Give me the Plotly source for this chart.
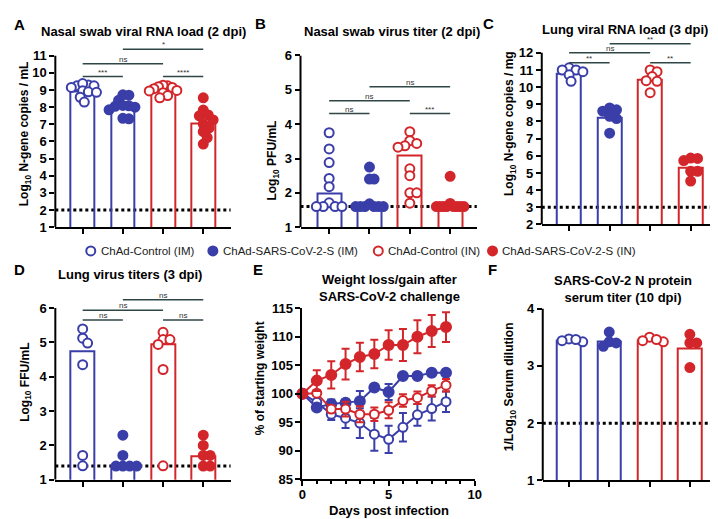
import plotly.graph_objects as go

W, H = 718, 519
BLUE = "#3a3ea8"
RED = "#d3262b"
BRK = "#2e4646"
FONT = "Arial, Liberation Sans, sans-serif"

groups = ["ChAd-Control (IM)", "ChAd-SARS-CoV-2-S (IM)", "ChAd-Control (IN)", "ChAd-SARS-CoV-2-S (IN)"]
colors = [BLUE, BLUE, RED, RED]
filled = [False, True, False, True]

# A - nasal swab viral RNA (2 dpi)
a_bars = [8.9, 8.02, 8.96, 7.04]
a_pts = [
    [9.25, 9.3, 9.38, 9.25, 9.15, 8.96, 8.9, 8.87, 8.58, 8.30],
    [8.72, 8.7, 8.4, 8.1, 8.08, 8.05, 8.0, 7.85, 7.32, 7.35],
    [9.25, 9.28, 9.2, 9.15, 9.08, 8.98, 8.95, 8.85, 8.68, 8.55],
    [8.55, 7.83, 7.55, 7.5, 7.26, 7.02, 6.79, 6.57, 6.23, 5.85],
]
a_lod = 2
a_sig = [(0, 1, 9.79, "***"), (2, 3, 9.79, "****"), (0, 2, 10.53, "ns"), (1, 3, 11.38, "*")]

# B - nasal swab virus titer (2 dpi)
b_bars = [1.97, 1.6, 3.08, 1.6]
b_pts = [
    [3.75, 3.28, 2.88, 2.42, 2.18, 1.71, 1.6, 1.6, 1.6, 1.6],
    [2.75, 2.4, 2.4, 1.68, 1.6, 1.6, 1.6, 1.6, 1.6, 1.6],
    [3.78, 3.52, 3.44, 3.37, 3.33, 2.7, 2.5, 2.0, 2.0, 1.7],
    [2.48, 1.69, 1.6, 1.6, 1.6, 1.6, 1.6, 1.6, 1.6, 1.6],
]
b_lod = 1.6
b_sig = [(0, 1, 4.31, "ns"), (2, 3, 4.31, "***"), (0, 2, 4.68, "ns"), (1, 3, 5.09, "ns")]

# C - lung viral RNA (3 dpi)
c_bars = [10.75, 8.23, 10.43, 5.28]
c_pts = [
    [11.13, 11.0, 11.0, 10.9, 10.72, 10.34],
    [8.79, 8.68, 8.6, 8.3, 8.17, 7.32],
    [11.0, 10.9, 10.62, 10.38, 10.34, 9.68],
    [5.87, 5.85, 5.72, 5.1, 5.1, 4.53],
]
c_lod = 3
c_sig = [(0, 1, 11.43, "**"), (2, 3, 11.43, "**"), (0, 2, 12.0, "ns"), (1, 3, 12.53, "**")]

# D - lung virus titers (3 dpi)
d_bars = [4.73, 1.4, 4.96, 1.68]
d_pts = [
    [5.39, 5.12, 4.98, 4.35, 1.71, 1.41],
    [2.3, 1.71, 1.4, 1.4, 1.4, 1.4],
    [5.29, 5.08, 5.08, 4.94, 4.21, 1.41],
    [2.3, 2.0, 1.71, 1.71, 1.4, 1.4],
]
d_lod = 1.4
d_sig = [(0, 1, 5.65, "ns"), (2, 3, 5.65, "ns"), (0, 2, 5.93, "ns"), (1, 3, 6.24, "ns")]

# E - weight change
e_days = [0, 0.83, 1.67, 2.5, 3.33, 4.17, 5.0, 5.83, 6.67, 7.5, 8.33]
e_mean = [
    [100, 98.5, 96.4, 95.7, 94.85, 92.9, 92.0, 94.1, 96.3, 97.4, 98.6],
    [100, 97.6, 98.2, 98.4, 98.7, 101.1, 100.3, 103.1, 103.1, 103.7, 103.7],
    [100, 100.1, 97.3, 97.3, 96.4, 96.4, 97.1, 98.8, 99.3, 100.5, 101.5],
    [100, 102.3, 103.3, 105.2, 106.45, 106.96, 108.55, 108.55, 110.0, 111.0, 111.7],
]
e_err = [
    [0, 0.4, 1.0, 1.7, 2.6, 2.9, 2.4, 2.5, 1.9, 2.1, 1.8],
    [0, 0.5, 0.8, 0.6, 1.8, 0.5, 1.4, 0.4, 0.4, 0.4, 0.3],
    [0, 0.5, 0.6, 1.3, 1.4, 1.2, 1.4, 1.1, 1.1, 1.0, 1.1],
    [0, 1.8, 2.4, 2.7, 2.5, 2.5, 2.6, 2.8, 2.9, 2.8, 2.6],
]

# F - N protein serum titer (10 dpi)
f_bars = [3.45, 3.42, 3.45, 3.31]
f_pts = [
    [3.42, 3.47, 3.44, 3.46],
    [3.34, 3.59, 3.42, 3.40],
    [3.42, 3.50, 3.44, 3.46],
    [3.40, 3.55, 3.40, 2.97],
]
f_lod = 2


def swarm(vals, ppu_y, ppu_x, d=7, half=14):
    # simple beeswarm, squeezed so the cloud stays within +-half px
    order = sorted(range(len(vals)), key=lambda k: -vals[k])
    placed = []
    offs = [0.0] * len(vals)
    for k in order:
        y = vals[k] * ppu_y
        for step in range(0, 80):
            cand = (step + 1) // 2 * (1 if step % 2 else -1)
            if all((cand - px) ** 2 + (y - py) ** 2 >= d * d for px, py in placed):
                break
        placed.append((cand, y))
        offs[k] = cand
    wmax = max(abs(o) for o in offs) or 1
    scale = min(1, half / wmax)
    return [o * scale / ppu_x for o in offs]


fig = go.Figure()
shapes = []
annos = []


def dom(left, right, top, bottom):
    return [left / W, right / W], [1 - bottom / H, 1 - top / H]


def ax(n):
    s = "" if n == 1 else str(n)
    return "x" + s, "y" + s, "xaxis" + s, "yaxis" + s


def dot_panel(n, box, xr, yr, ytop, ticks, bars, pts, lod, sig):
    xd, yd = dom(*box)
    xa, ya, xkey, ykey = ax(n)
    ppu_y = (box[3] - box[2]) / (yr[1] - yr[0])
    ppu_x = (box[1] - box[0]) / (xr[1] - xr[0])
    for i in range(4):
        fig.add_trace(go.Bar(x=[i], y=[bars[i]], width=0.59, xaxis=xa, yaxis=ya,
                             marker=dict(color="rgba(0,0,0,0)", line=dict(color=colors[i], width=2)),
                             showlegend=False, hoverinfo="skip"))
    for i in range(4):
        offs = swarm(pts[i], ppu_y, ppu_x)
        fig.add_trace(go.Scatter(
            x=[i + o for o in offs], y=pts[i], mode="markers", xaxis=xa, yaxis=ya,
            name=groups[i], showlegend=False, cliponaxis=False,
            marker=dict(size=9, symbol="circle",
                        color=colors[i] if filled[i] else "white",
                        line=dict(color=colors[i], width=2))))
    fig.update_layout(**{
        xkey: dict(domain=xd, range=xr, anchor=ya, showline=True, linewidth=2, linecolor="black",
                   ticks="outside", ticklen=5, tickwidth=2, tickcolor="black",
                   tickvals=[0, 1, 2, 3], showticklabels=False, showgrid=False, zeroline=False),
        ykey: dict(domain=yd, range=yr, anchor=xa, showline=False,
                   ticks="outside", ticklen=5, tickwidth=2, tickcolor="black", tickvals=ticks,
                   tickfont=dict(size=13, weight="bold", color="black"),
                   showgrid=False, zeroline=False),
    })
    shapes.append(dict(type="line", xref=xa + " domain", yref=ya, x0=0, x1=0, y0=yr[0], y1=ytop,
                       line=dict(color="black", width=2)))
    shapes.append(dict(type="line", xref=xa + " domain", yref=ya, x0=0, x1=1, y0=lod, y1=lod,
                       line=dict(color="black", width=3, dash="3px,3px"), layer="below"))
    for i, j, y, lab in sig:
        shapes.append(dict(type="line", xref=xa, yref=ya, x0=i, x1=j, y0=y, y1=y,
                           line=dict(color=BRK, width=1.5)))
        annos.append(dict(x=(i + j) / 2, y=y, xref=xa, yref=ya, text=lab, showarrow=False,
                          yanchor="bottom", yshift=-2, font=dict(size=8, color="#333")))


dot_panel(1, (44, 222, 31.4, 218.5), [-0.68, 3.68], [1, 11.6], 11, list(range(1, 12)),
          a_bars, a_pts, a_lod, a_sig)
dot_panel(2, (293, 472, 41.7, 218.5), [-0.71, 3.66], [1, 6], 6, list(range(1, 7)),
          b_bars, b_pts, b_lod, b_sig)
dot_panel(3, (538, 717, 26.6, 215.7), [-0.675, 3.675], [2, 12.7], 12, list(range(2, 13)),
          c_bars, c_pts, c_lod, c_sig)
dot_panel(4, (44, 222, 287.5, 478.7), [-0.68, 3.68], [1, 6.4], 6, list(range(1, 7)),
          d_bars, d_pts, d_lod, d_sig)
dot_panel(6, (539, 715, 302.3, 479.3), [-0.65, 3.65], [1, 4], 4, [1, 2, 3, 4],
          f_bars, f_pts, f_lod, [])

# E - line chart with error bars
for i in range(4):
    fig.add_trace(go.Scatter(
        x=e_days, y=e_mean[i], mode="lines+markers", xaxis="x5", yaxis="y5", showlegend=False,
        cliponaxis=False, line=dict(color=colors[i], width=2),
        error_y=dict(type="data", array=e_err[i], color=colors[i], thickness=2, width=4),
        marker=dict(size=10 if filled[i] else 9, color=colors[i] if filled[i] else "white",
                    line=dict(color=colors[i], width=2))))
xd, yd = dom(295, 470, 302, 478)
fig.update_layout(
    xaxis5=dict(domain=xd, range=[0, 10], anchor="y5", showline=True, linewidth=2, linecolor="black",
                ticks="outside", ticklen=5, tickwidth=2, tickcolor="black", tickvals=[0, 5, 10],
                tickfont=dict(size=13, weight="bold", color="black"), ticklabelstandoff=-3,
                minor=dict(dtick=10 / 12, tick0=0, ticks="outside", ticklen=3, tickwidth=1.5, tickcolor="black"),
                showgrid=False, zeroline=False),
    yaxis5=dict(domain=yd, range=[85, 115], anchor="x5", showline=True, linewidth=2, linecolor="black",
                ticks="outside", ticklen=5, tickwidth=2, tickcolor="black", dtick=5,
                tickfont=dict(size=13, weight="bold", color="black"), showgrid=False, zeroline=False),
)

# legend row, drawn on a hidden pixel-scaled axis
leg_x = [80, 204, 372, 488]
fig.add_trace(go.Scatter(
    x=leg_x, y=[0.5] * 4, mode="markers", xaxis="x7", yaxis="y7", showlegend=False, hoverinfo="skip",
    marker=dict(size=9, color=[c if f else "white" for c, f in zip(colors, filled)],
                line=dict(color=colors, width=2))))
for x, t in zip(leg_x, groups):
    annos.append(dict(x=x + 8, y=0.5, xref="x7", yref="y7", text=t, showarrow=False,
                      xanchor="left", yanchor="middle", font=dict(size=11.5, color="#222")))
fig.update_layout(
    xaxis7=dict(domain=[0, 1], range=[0, W], visible=False, anchor="y7"),
    yaxis7=dict(domain=[1 - 253 / H, 1 - 233 / H], range=[0, 1], visible=False, anchor="x7"),
)

# titles, letters, axis titles
title_font = dict(size=13, weight="bold", color="black", family=FONT)
for x, y, t in [(134, 17, "Nasal swab viral RNA load (2 dpi)"), (386, 17, "Nasal swab virus titer (2 dpi)"),
                (623, 15, "Lung viral RNA load (3 dpi)"), (120, 267, "Lung virus titers (3 dpi)"),
                (383, 281, "Weight loss/gain after<br>SARS-CoV-2 challenge"),
                (621, 282, "SARS-CoV-2 N protein<br>serum titer (10 dpi)")]:
    annos.append(dict(x=x / W, y=1 - y / H, xref="paper", yref="paper", text=t, showarrow=False,
                      font=title_font, xanchor="center", yanchor="middle"))
annos.append(dict(x=383 / W, y=1 - 510 / H, xref="paper", yref="paper", text="Days post infection",
                  showarrow=False, font=title_font, xanchor="center", yanchor="middle"))
for x, y, t in [(8, 10, "A"), (252, 9, "B"), (484, 9, "C"), (8, 262, "D"), (250, 262, "E"), (488, 262, "F")]:
    annos.append(dict(x=x / W, y=1 - y / H, xref="paper", yref="paper", text=t, showarrow=False,
                      font=dict(size=15, weight="bold", color="black", family=FONT),
                      xanchor="center", yanchor="middle"))
axt_font = dict(size=12, weight="bold", color="black", family=FONT)
for x, y, t in [(14, 122, "Log<sub>10</sub> N-gene copies / mL"), (265, 150, "Log<sub>10</sub> PFU/mL"),
                (506, 112, "Log<sub>10</sub> N-gene copies / mg"), (14, 378, "Log<sub>10</sub> FFU/mL"),
                (252, 374, "% of starting weight"), (506, 383, "1/Log<sub>10</sub> Serum dilution")]:
    annos.append(dict(x=x / W, y=1 - y / H, xref="paper", yref="paper", text=t, showarrow=False,
                      textangle=-90, font=axt_font, xanchor="center", yanchor="middle"))

fig.update_layout(
    width=W, height=H, margin=dict(l=0, r=0, t=0, b=0),
    plot_bgcolor="white", paper_bgcolor="white",
    font=dict(family=FONT, color="black"),
    shapes=shapes, annotations=annos, bargap=0, showlegend=False,
)

fig.write_html("out.html")
